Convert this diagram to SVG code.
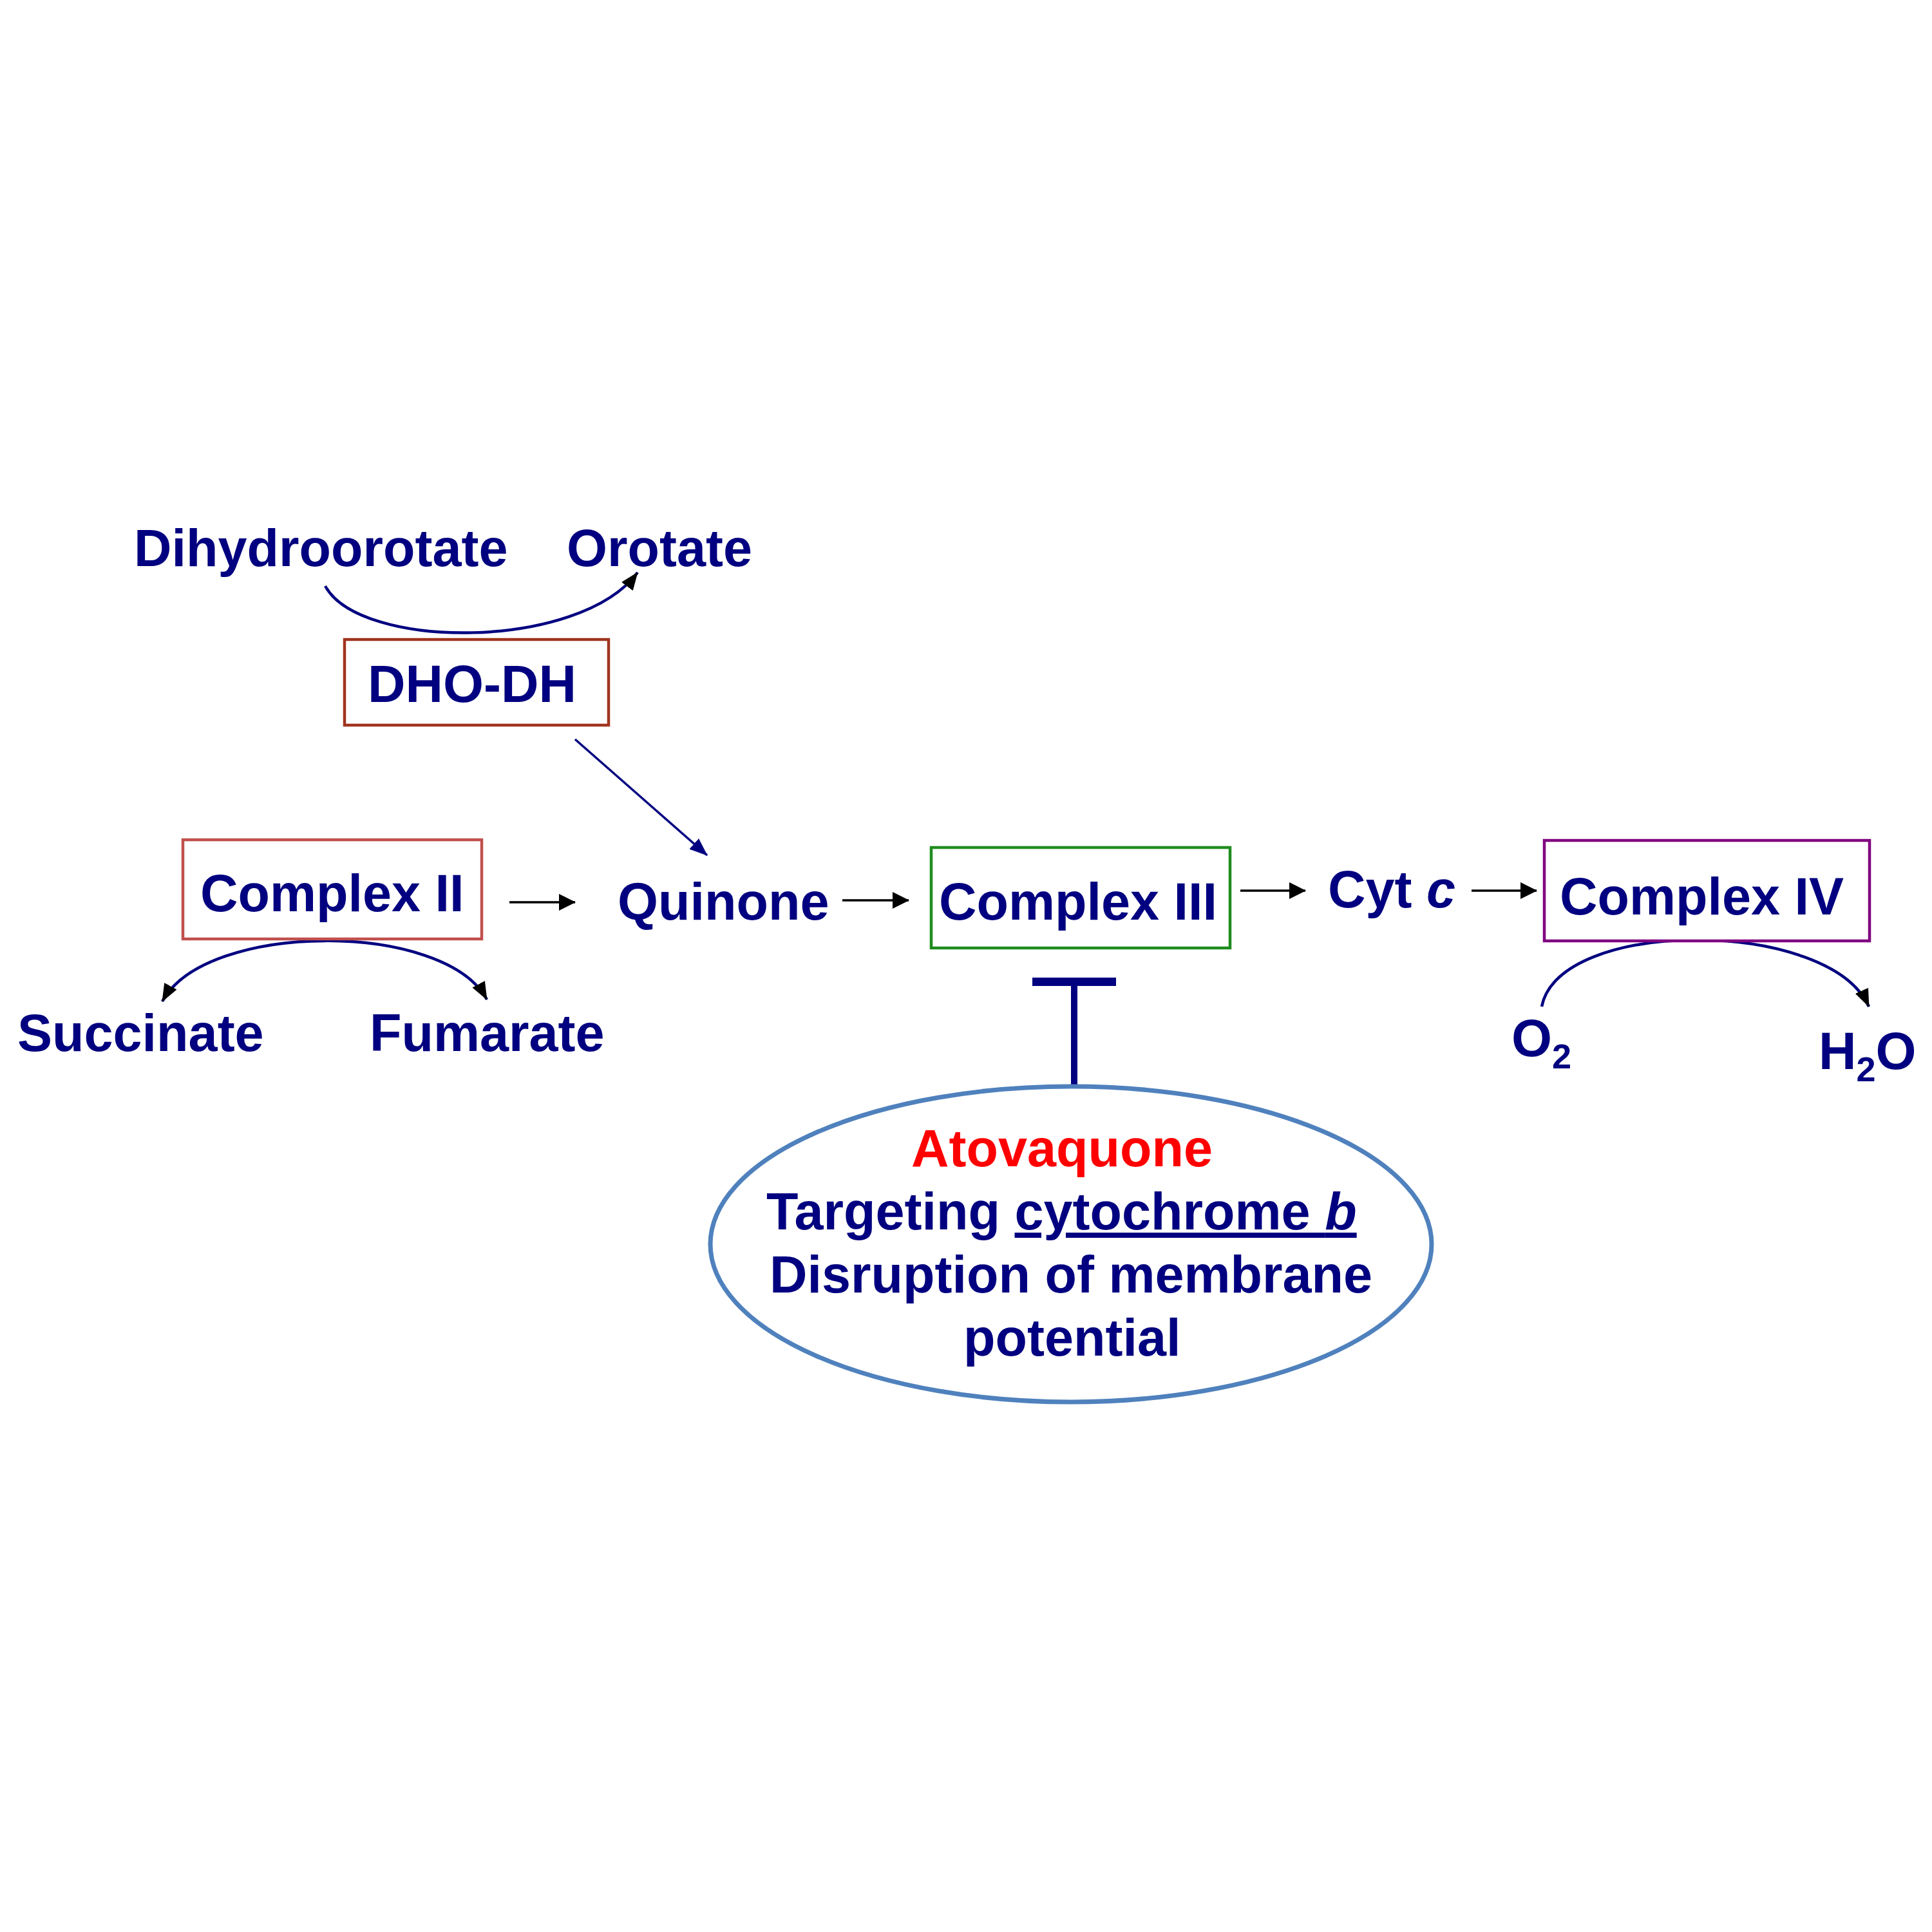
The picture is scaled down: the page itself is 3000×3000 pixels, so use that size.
<svg xmlns="http://www.w3.org/2000/svg" width="3000" height="3000" viewBox="0 0 3000 3000">
<style>
.t{font-family:"Liberation Sans",Arial,sans-serif;font-weight:bold;font-size:81px;fill:#000080}
.red{fill:#FF0000}
.box{fill:#FFFFFF;stroke-width:4.5}
.blk{stroke:#000000;stroke-width:3.5;fill:none}
.arc{stroke:#000080;stroke-width:4.5;fill:none}
</style>
<defs>
<marker id="ahB" viewBox="0 0 26 26" refX="25" refY="13" markerWidth="26" markerHeight="26" markerUnits="userSpaceOnUse" orient="auto"><path d="M0,0 L26,13 L0,26 z" fill="#000000"/></marker>
<marker id="ahArc" viewBox="0 0 28 22" refX="27" refY="11" markerWidth="28" markerHeight="22" markerUnits="userSpaceOnUse" orient="auto"><path d="M0,0 L28,11 L0,22 z" fill="#000000"/></marker>
<marker id="ahArcS" viewBox="0 0 28 22" refX="1" refY="11" markerWidth="28" markerHeight="22" markerUnits="userSpaceOnUse" orient="auto"><path d="M28,0 L0,11 L28,22 z" fill="#000000"/></marker>
<marker id="ahN" viewBox="0 0 28 22" refX="27" refY="11" markerWidth="28" markerHeight="22" markerUnits="userSpaceOnUse" orient="auto"><path d="M0,0 L28,11 L0,22 z" fill="#000080"/></marker>
</defs>
<rect width="3000" height="3000" fill="#FFFFFF"/>

<g id="connectors">
<path class="arc" d="M505,910 C560,1010 900,1010 990,889" marker-end="url(#ahArc)"/>
<path d="M893,1148 L1098,1328" stroke="#000080" stroke-width="3.5" fill="none" marker-end="url(#ahN)"/>
<path class="arc" d="M252,1555 C320,1430 690,1430 756,1552" marker-start="url(#ahArcS)" marker-end="url(#ahArc)"/>
<path class="arc" d="M2394,1563 C2420,1425 2840,1425 2902,1563" marker-end="url(#ahArc)"/>
<line class="blk" x1="791" y1="1401" x2="893" y2="1401" marker-end="url(#ahB)"/>
<line class="blk" x1="1308" y1="1398" x2="1411" y2="1398" marker-end="url(#ahB)"/>
<line class="blk" x1="1926" y1="1383" x2="2027" y2="1383" marker-end="url(#ahB)"/>
<line class="blk" x1="2285" y1="1383" x2="2386" y2="1383" marker-end="url(#ahB)"/>
<g id="inhibition">
<rect x="1603" y="1518" width="130" height="13" fill="#000080"/>
<rect x="1663" y="1525" width="10" height="162" fill="#000080"/>
</g>
</g>

<g id="dihydroorotate"><text class="t" x="208" y="879">Dihydroorotate</text></g>
<g id="orotate"><text class="t" x="880" y="879">Orotate</text></g>
<g id="dhodh">
<rect class="box" x="535" y="993" width="410" height="133" stroke="#A0341F"/>
<text class="t" x="571" y="1090">DHO-DH</text>
</g>
<g id="complex2">
<rect class="box" x="284" y="1304" width="464" height="154" stroke="#C0504D"/>
<text class="t" x="311" y="1415">Complex II</text>
</g>
<g id="quinone"><text class="t" x="959" y="1428">Quinone</text></g>
<g id="complex3">
<rect class="box" x="1446" y="1316" width="464" height="156" stroke="#1E8C1E"/>
<text class="t" x="1458" y="1428">Complex III</text>
</g>
<g id="cytc"><text class="t" x="2062" y="1409">Cyt <tspan font-style="italic">c</tspan></text></g>
<g id="complex4">
<rect class="box" x="2398" y="1305" width="505" height="156" stroke="#800080"/>
<text class="t" x="2422" y="1420">Complex IV</text>
</g>
<g id="succinate"><text class="t" x="27" y="1632">Succinate</text></g>
<g id="fumarate"><text class="t" x="574" y="1632">Fumarate</text></g>
<g id="o2"><text class="t" x="2347" y="1640">O<tspan font-size="54" dy="19">2</tspan></text></g>
<g id="h2o"><text class="t" x="2824" y="1660">H<tspan font-size="54" dy="19">2</tspan><tspan dy="-19">O</tspan></text></g>
<g id="atovaquone">
<ellipse cx="1663" cy="1932" rx="560" ry="245" fill="#FFFFFF" stroke="#4F81BD" stroke-width="7"/>
<text class="t red" x="1415" y="1811">Atovaquone</text>
<text class="t" x="1190" y="1909">Targeting <tspan text-decoration="underline">cytochrome <tspan font-style="italic">b</tspan></tspan></text>
<text class="t" x="1195" y="2007">Disruption of membrane</text>
<text class="t" x="1496" y="2105">potential</text>
</g>
</svg>
